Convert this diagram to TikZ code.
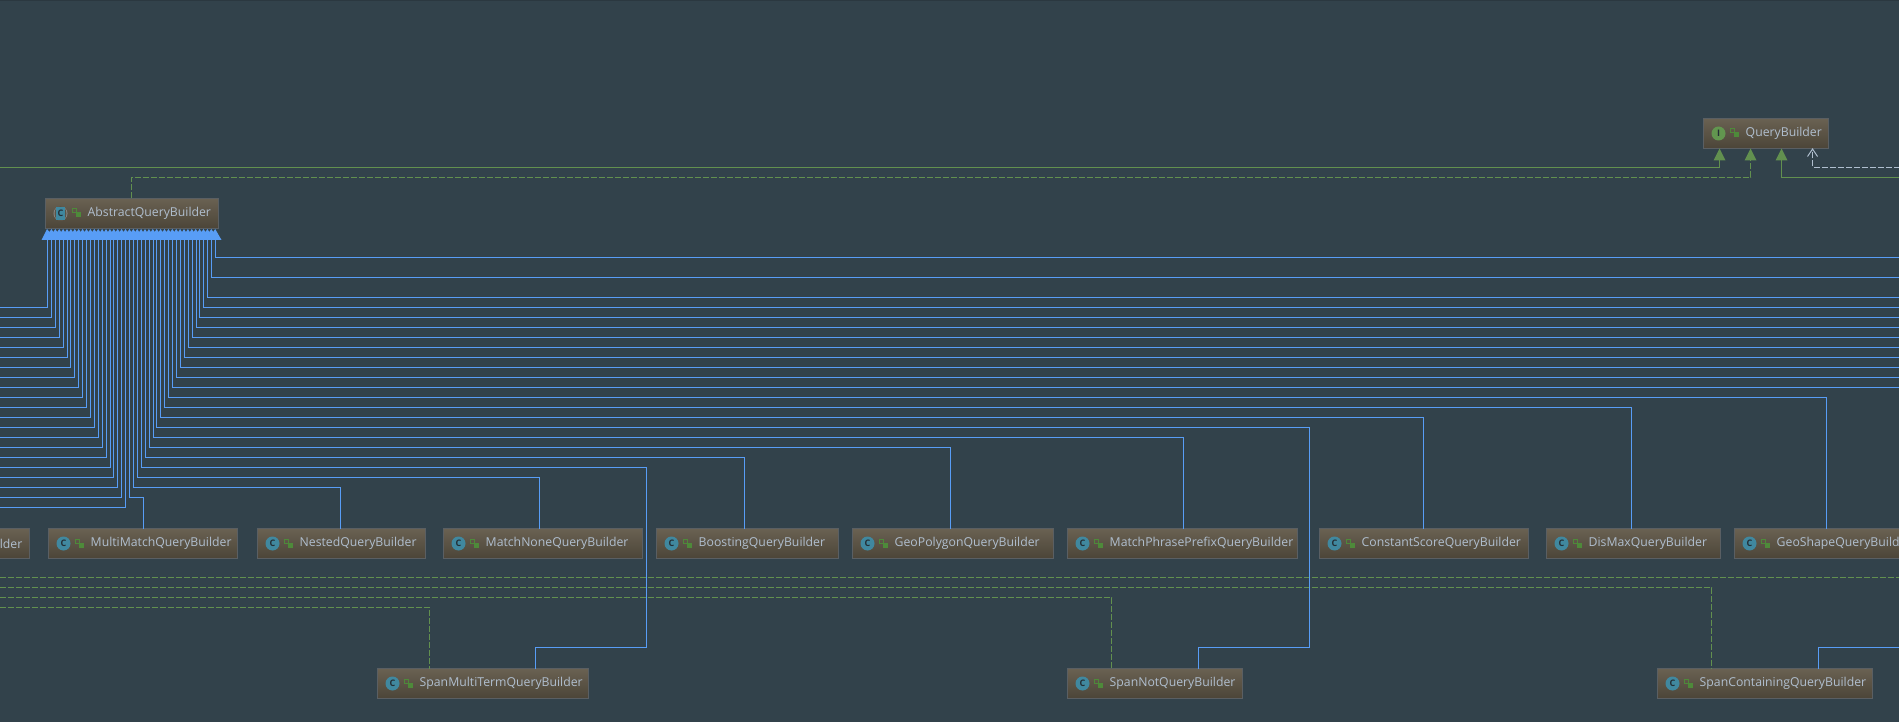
\documentclass[tikz,border=0pt]{standalone}
\usepackage{fontspec}
\setmainfont{Open Sans}
\usetikzlibrary{calc}
\definecolor{bgc}{HTML}{32424B}
\definecolor{topc}{HTML}{2B3840}
\definecolor{boxtop}{HTML}{6A6152}
\definecolor{boxbot}{HTML}{4B4538}
\definecolor{boxmid}{HTML}{5B5345}
\definecolor{boxedge}{HTML}{5A5F63}
\definecolor{txtc}{HTML}{B0BFCF}
\definecolor{bluel}{HTML}{589DF6}
\definecolor{greenl}{HTML}{62904F}
\definecolor{iconc}{HTML}{40889F}
\definecolor{iconi}{HTML}{62964F}
\definecolor{lockc}{HTML}{4E8A3A}
\definecolor{arcc}{HTML}{8A8A8A}
\tikzset{
  x=1pt,y=-1pt,
  classbox/.style={draw=boxedge,line width=1pt,top color=boxtop,bottom color=boxbot,shading angle=0,minimum height=30pt,inner sep=0pt,outer sep=0pt,anchor=north west},
  lbl/.style={text=txtc,font=\fontsize{12.25pt}{14pt}\selectfont,inner sep=0pt,anchor=west},
  icontext/.style={text=bgc!70!black,font=\fontsize{9pt}{9pt}\selectfont\bfseries,inner sep=0pt},
  inh/.style={draw=bluel,line width=1pt},
  dashg/.style={draw=greenl,line width=1pt,dash pattern=on 6pt off 2pt},
  solg/.style={draw=greenl,line width=1pt},
  whitedash/.style={draw=txtc,line width=1pt,dash pattern=on 6pt off 2pt},
  tri/.style={fill=greenl,draw=none},
}
\newcommand{\lockicon}[1]{%
  \draw[lockc,line width=1pt] ($(#1)+(-4,-4.5)$) rectangle ($(#1)+(-0.5,-0.5)$);
  \fill[lockc] ($(#1)+(-1,-1)$) rectangle ($(#1)+(4,4)$);
}
% name, left, top, right, text
\newcommand{\cbox}[5]{%
  \node[classbox,minimum width=#4pt-#2pt] (#1) at (#2,#3) {};
  \fill[iconc] ($(#1.west)+(15,0)$) circle (7);
  \node[icontext] (#1c) at ($(#1.west)+(15,0)$) {C};
  \coordinate (#1l) at ($(#1.west)+(31,0)$);
  \lockicon{#1l}
  \node[lbl] (#1t) at ($(#1.west)+(42,0)$) {#5};
}
\begin{document}
\begin{tikzpicture}
\useasboundingbox (0,0) rectangle (1899,722);
\clip (0,0) rectangle (1899,722);
\fill[bgc] (0,0) rectangle (1899,722);
\fill[topc] (0,0) rectangle (1899,1.5);
\begin{scope}[shift={(0.5,0.5)}]
% frame coordinates
\foreach \yy in {167,177,647,577,587,597,607}{
  \coordinate (R\yy) at (1899,\yy);
  \coordinate (L\yy) at (-1,\yy);
}
\coordinate (aqtop) at (131,198);
% ---- upper boxes
\node[classbox,minimum width=125pt] (qb) at (1703,118) {};
\fill[iconi] ($(qb.west)+(15,0)$) circle (7);
\node[icontext] (qbc) at ($(qb.west)+(15,0)$) {I};
\coordinate (qbl) at ($(qb.west)+(31,0)$);
\lockicon{qbl}
\node[lbl] (qbt) at ($(qb.west)+(42,0)$) {QueryBuilder};
\node[classbox,minimum width=173pt] (aq) at (45,198) {};
\fill[arcc] ($(aq.west)+(15,0)$) circle (7);
\fill[boxmid] ($(aq.west)+(15,0)$) ellipse (6 and 7.5);
\fill[iconc] ($(aq.west)+(10.5,-6.5)$) rectangle ($(aq.west)+(19.5,6.5)$);
\node[icontext] (aqc) at ($(aq.west)+(15,0)$) {C};
\coordinate (aql) at ($(aq.west)+(31,0)$);
\lockicon{aql}
\node[lbl] (aqt) at ($(aq.west)+(42,0)$) {AbstractQueryBuilder};
% ---- row boxes
\node[classbox,minimum width=40pt] (b0) at (-11,528) {};
\node[lbl,anchor=east] (b0t) at (22,543) {lder};
\cbox{mm}{48}{528}{237}{MultiMatchQueryBuilder}
\cbox{ne}{257}{528}{425}{NestedQueryBuilder}
\cbox{mn}{443}{528}{642}{MatchNoneQueryBuilder}
\cbox{bo}{656}{528}{838}{BoostingQueryBuilder}
\cbox{gp}{852}{528}{1053}{GeoPolygonQueryBuilder}
\cbox{mp}{1067}{528}{1297}{MatchPhrasePrefixQueryBuilder}
\cbox{cs}{1319}{528}{1528}{ConstantScoreQueryBuilder}
\cbox{dm}{1546}{528}{1720}{DisMaxQueryBuilder}
\cbox{gs}{1734}{528}{1930}{GeoShapeQueryBuild}
\cbox{sm}{377}{668}{588}{SpanMultiTermQueryBuilder}
\cbox{sn}{1067}{668}{1242}{SpanNotQueryBuilder}
\cbox{sc}{1657}{668}{1872}{SpanContainingQueryBuilder}
% ---- green relations
\draw[solg] (L167) -- (1719,167) -- (1719,159);
\draw[dashg] (aqtop) -- (131,177) -- (1750,177) -- (1750,159);
\draw[solg] (R177) -- (1781,177) -- (1781,159);
\draw[whitedash] (R167) -- (1812,167) -- (1812,150);
\draw[txtc,line width=1pt] (1807,156) -- (1812,148.5) -- (1817,156);
\foreach \xx in {1719,1750,1781}{
  \fill[tri] (\xx-6,160) -- (\xx,148) -- (\xx+6,160) -- cycle;
}
% ---- dashed lower relations
\draw[dashg] (L577) -- (R577);
\draw[dashg] (L587) -- (1711,587) -- (1711,668);
\draw[dashg] (L597) -- (1111,597) -- (1111,668);
\draw[dashg] (L607) -- (429,607) -- (429,668);
% ---- blue inheritance: left fan
\foreach \xx/\yy in {47/307,51/317,55/327,59/337,63/347,67/357,70/367,74/377,78/387,82/397,86/407,90/417,94/427,98/437,102/447,106/457,110/467,113/477,117/487,121/497,125/507}{
  \draw[inh] (\xx,238) -- (\xx,\yy) -- (-1,\yy);
}
% right fan to edge
\foreach \xx/\yy in {215/257,211/277,207/297,203/307,199/317,196/327,192/337,188/347,184/357,180/367,176/377,172/387}{
  \draw[inh] (\xx,238) -- (\xx,\yy) -- (1899,\yy);
}
% right fan to boxes
\foreach \xx/\yy/\tx/\tn in {168/397/1826/gs,164/407/1631/dm,160/417/1423/cs,153/437/1183/mp,149/447/950/gp,145/457/744/bo,137/477/539/mn,133/487/340/ne,129/497/143/mm}{
  \draw[inh] (\xx,238) -- (\xx,\yy) -- (\tx,\yy) -- (\tx,528);
}
\draw[inh] (156,238) -- (156,427) -- (1309,427) -- (1309,647) -- (1198,647) -- (1198,668);
\draw[inh] (141,238) -- (141,467) -- (646,467) -- (646,647) -- (535,647) -- (535,668);
\draw[inh] (R647) -- (1818,647) -- (1818,668);
% fused arrowheads
\fill[bluel] (41,239.5) -- (46.5,228.5) \foreach \k in {1,...,43}{ -- ({47+3.9*\k-1.95},231.5) -- ({47+3.9*\k},228.5) } -- (221,239.5) -- cycle;
\end{scope}
\end{tikzpicture}
\end{document}
